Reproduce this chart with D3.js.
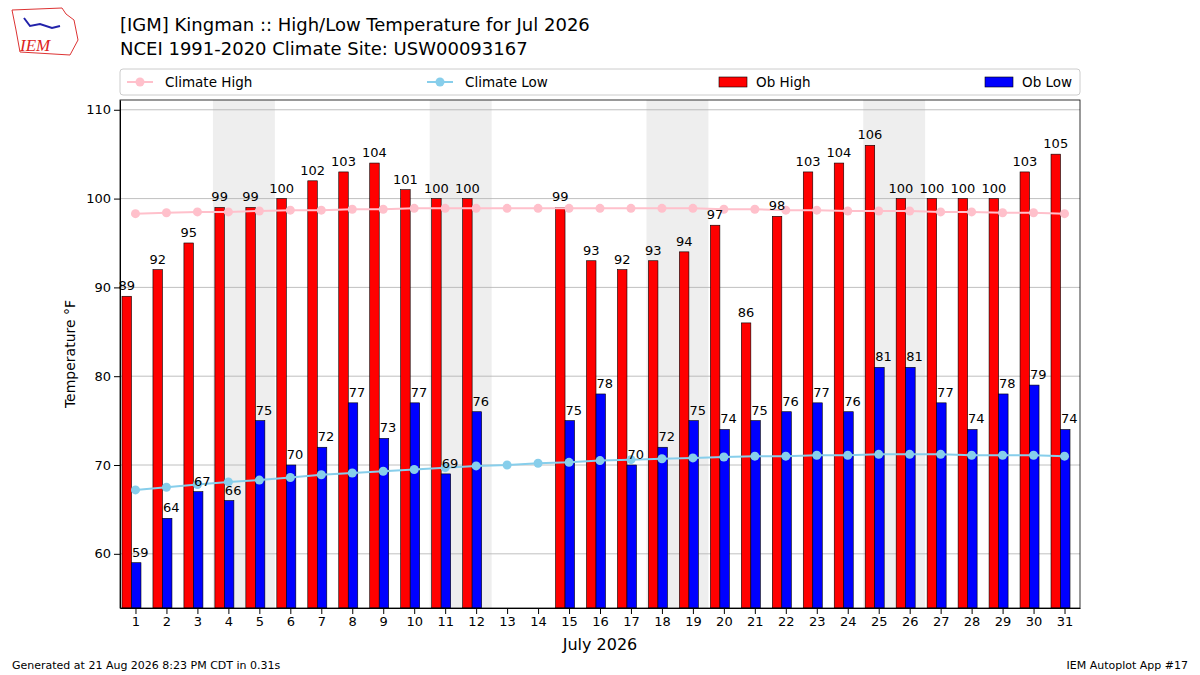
<!DOCTYPE html>
<html><head><meta charset="utf-8">
<script src="https://cdn.jsdelivr.net/npm/d3@7"></script>
<style>body{margin:0;background:#fff;font-family:"DejaVu Sans",sans-serif}</style>
</head><body><svg id="c" width="1200" height="675"></svg>
<script>
const days = d3.range(1, 32);
const obHigh = [89,92,95,99,99,100,102,103,104,101,100,100,null,null,99,93,92,93,94,97,86,98,103,104,106,100,100,100,100,103,105];
const obLow = [59,64,67,66,75,70,72,77,73,77,69,76,null,null,75,78,70,72,75,74,75,76,77,76,81,81,77,74,78,79,74];
const climHigh = [98.3,98.4,98.5,98.5,98.6,98.7,98.7,98.8,98.8,98.9,98.9,98.9,98.9,98.9,98.9,98.9,98.9,98.9,98.9,98.8,98.8,98.7,98.7,98.6,98.6,98.6,98.5,98.5,98.4,98.4,98.3];
const climLow = [67.2,67.5,67.8,68.1,68.3,68.6,68.9,69.1,69.3,69.5,69.7,69.9,70.0,70.2,70.3,70.5,70.6,70.7,70.8,70.9,71.0,71.0,71.1,71.1,71.2,71.2,71.2,71.1,71.1,71.1,71.0];
const weekendStarts = [4, 11, 18, 25];
const yTicks = [60,70,80,90,100,110];

const svg = d3.select("#c");
const L=120,R=1080,T=100,B=608;
const x = d3.scaleLinear().domain([0.5,31.5]).range([L,R]);
const y = d3.scaleLinear().domain([53.9,111.1]).range([B,T]);
const bw = 9.5, off = 4;

svg.append("text").attr("x",120).attr("y",31).attr("font-size",18).text("[IGM] Kingman :: High/Low Temperature for Jul 2026");
svg.append("text").attr("x",120).attr("y",55).attr("font-size",18).text("NCEI 1991-2020 Climate Site: USW00093167");
svg.append("path").attr("d","M12,10 L62,8 L66,14 L74,20 L78,40 L70,55 L20,52 L16,30 Z").attr("fill","none").attr("stroke","#d33").attr("stroke-width",1);
svg.append("text").attr("x",20).attr("y",51).attr("font-size",17).attr("font-style","italic").attr("font-family","Liberation Serif").attr("fill","#d22").text("IEM");
svg.append("path").attr("d","M24,18 L30,26 L40,24 L52,28 L60,26").attr("fill","none").attr("stroke","#22a").attr("stroke-width",2);

weekendStarts.forEach(d=>svg.append("rect").attr("x",x(d-0.5)).attr("width",x(d+1.5)-x(d-0.5)).attr("y",T).attr("height",B-T).attr("fill","#eee"));
yTicks.forEach(t=>svg.append("line").attr("x1",L).attr("x2",R).attr("y1",y(t)).attr("y2",y(t)).attr("stroke","#b0b0b0").attr("stroke-width",0.8));

const g = svg.append("g");
days.forEach((d,i)=>{
  if(obHigh[i]!=null) g.append("rect").attr("x",x(d)-off-bw).attr("width",bw).attr("y",y(obHigh[i])).attr("height",B-y(obHigh[i])).attr("fill","red").attr("stroke","#000").attr("stroke-width",0.6);
  if(obLow[i]!=null) g.append("rect").attr("x",x(d)-off).attr("width",bw).attr("y",y(obLow[i])).attr("height",B-y(obLow[i])).attr("fill","blue").attr("stroke","#000").attr("stroke-width",0.6);
});
function cl(vals,col){
  const line=d3.line().x((v,i)=>x(days[i])).y(v=>y(v));
  svg.append("path").attr("d",line(vals)).attr("fill","none").attr("stroke",col).attr("stroke-width",2);
  vals.forEach((v,i)=>svg.append("circle").attr("cx",x(days[i])).attr("cy",y(v)).attr("r",4.5).attr("fill",col));
}
cl(climHigh,"pink"); cl(climLow,"skyblue");
days.forEach((d,i)=>{
  if(obHigh[i]!=null) svg.append("text").attr("x",x(d)-off-bw/2).attr("y",y(obHigh[i])-6).attr("text-anchor","middle").attr("font-size",13).text(obHigh[i]);
  if(obLow[i]!=null) svg.append("text").attr("x",x(d)-off+bw/2+4).attr("y",y(obLow[i])-6).attr("text-anchor","middle").attr("font-size",13).text(obLow[i]);
});

const xa=svg.append("g").attr("transform",`translate(0,${B})`).call(d3.axisBottom(x).tickValues(days).tickFormat(d3.format("d")).tickSizeOuter(0));
xa.selectAll("text").attr("font-size",13).attr("fill","#000").attr("font-family","DejaVu Sans");
const ya=svg.append("g").attr("transform",`translate(${L},0)`).call(d3.axisLeft(y).tickValues(yTicks).tickSizeOuter(0));
ya.selectAll("text").attr("font-size",13).attr("fill","#000").attr("font-family","DejaVu Sans");
svg.append("rect").attr("x",L).attr("y",T).attr("width",R-L).attr("height",B-T).attr("fill","none").attr("stroke","#000").attr("stroke-width",0.8);
svg.append("text").attr("x",600).attr("y",650).attr("text-anchor","middle").attr("font-size",16).text("July 2026");
svg.append("text").attr("transform","translate(75,354) rotate(-90)").attr("text-anchor","middle").attr("font-size",14).text("Temperature °F");

svg.append("rect").attr("x",120).attr("y",69).attr("width",960).attr("height",26).attr("rx",3).attr("fill","#fff").attr("stroke","#ccc");
const ly=82;
[[140,"pink","Climate High"],[440,"skyblue","Climate Low"]].forEach(([lx,c,t])=>{
  svg.append("line").attr("x1",lx-13).attr("x2",lx+13).attr("y1",ly).attr("y2",ly).attr("stroke",c).attr("stroke-width",2);
  svg.append("circle").attr("cx",lx).attr("cy",ly).attr("r",4.5).attr("fill",c);
  svg.append("text").attr("x",lx+25).attr("y",ly+5).attr("font-size",13.5).text(t);
});
[[719,"red","Ob High"],[985,"blue","Ob Low"]].forEach(([lx,c,t])=>{
  svg.append("rect").attr("x",lx).attr("y",ly-5).attr("width",28).attr("height",10).attr("fill",c).attr("stroke","#000").attr("stroke-width",0.6);
  svg.append("text").attr("x",lx+37).attr("y",ly+5).attr("font-size",13.5).text(t);
});
svg.append("text").attr("x",12).attr("y",669).attr("font-size",11).text("Generated at 21 Aug 2026 8:23 PM CDT in 0.31s");
svg.append("text").attr("x",1188).attr("y",669).attr("text-anchor","end").attr("font-size",11).text("IEM Autoplot App #17");
</script></body></html>
